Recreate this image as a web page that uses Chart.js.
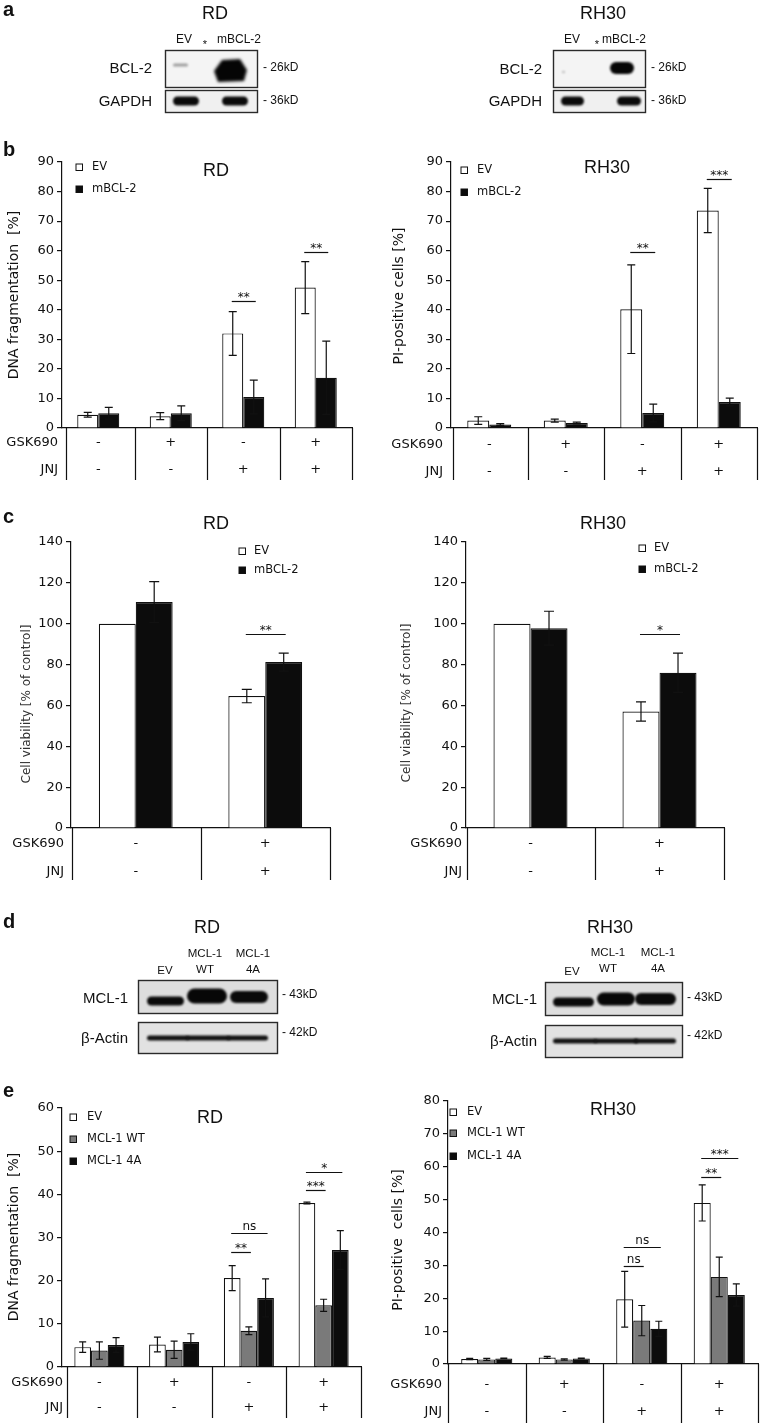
<!DOCTYPE html>
<html>
<head>
<meta charset="utf-8">
<script src="https://cdn.jsdelivr.net/npm/chart.js@4.4.1/dist/chart.umd.min.js"></script>
<style>
  html, body { margin: 0; padding: 0; background: #fff; }
  #page { position: relative; width: 761px; height: 1425px; overflow: hidden; background: #fff; }
  canvas { position: absolute; display: block; }
</style>
</head>
<body>
<div id="page">
  <canvas id="fondo" width="761" height="1425" style="left:0;top:0"></canvas>
  <canvas id="bRd"></canvas>
  <canvas id="bRh"></canvas>
  <canvas id="cRd"></canvas>
  <canvas id="cRh"></canvas>
  <canvas id="eRd"></canvas>
  <canvas id="eRh"></canvas>
</div>
<script>
// Datos
const categorias4 = ['1', '2', '3', '4'];
const categorias2 = ['1', '2'];
const filaGsk4 = ['-', '+', '-', '+'];
const filaJnj4 = ['-', '-', '+', '+'];
const filaGsk2 = ['-', '+'];
const filaJnj2 = ['-', '+'];

// b - RD (DNA fragmentation)
const bRdEV = [4.5, 4.0, 32.0, 47.5];
const bRdEVErr = [0.8, 1.2, 7.4, 8.8];
const bRdBCL = [5.0, 5.0, 10.5, 17.0];
const bRdBCLErr = [2.0, 2.5, 5.7, 12.4];
// b - RH30 (PI-positive cells)
const bRhEV = [2.5, 2.5, 40.2, 73.6];
const bRhEVErr = [1.3, 0.5, 15.0, 7.5];
const bRhBCL = [1.2, 1.7, 5.1, 8.8];
const bRhBCLErr = [0.3, 0.3, 3.0, 1.3];

// c - viabilidad
const cRdEV = [100, 64.6];
const cRdEVErr = [0, 3.3];
const cRdBCL = [110.6, 81.2];
const cRdBCLErr = [10.0, 4.4];
const cRhEV = [100, 57.0];
const cRhEVErr = [0, 4.7];
const cRhBCL = [97.8, 76.0];
const cRhBCLErr = [8.3, 9.6];

// e - MCL-1
const eRdEV = [4.6, 5.2, 20.6, 38.0];
const eRdEVErr = [1.2, 1.7, 2.9, 0.2];
const eRdWT = [3.8, 4.0, 8.4, 14.3];
const eRdWTErr = [2.0, 2.0, 0.9, 1.4];
const eRd4A = [5.1, 5.8, 16.0, 27.1];
const eRd4AErr = [1.7, 1.9, 4.4, 4.5];
const eRhEV = [1.5, 2.0, 19.7, 49.0];
const eRhEVErr = [0.2, 0.3, 8.5, 5.5];
const eRhWT = [1.4, 1.4, 13.2, 26.5];
const eRhWTErr = [0.3, 0.2, 4.6, 6.0];
const eRh4A = [1.7, 1.7, 10.7, 21.0];
const eRh4AErr = [0.1, 0.1, 2.3, 3.4];

// Significancia: categoría, barra desde, barra hasta, altura (valor), texto
const sigBRd = [[2, 0, 1, 43, '**'], [3, 0, 1, 59.5, '**']];
const sigBRh = [[2, 0, 1, 59.5, '**'], [3, 0, 1, 84.4, '***']];
const sigCRd = [[1, 0, 1, 95, '**']];
const sigCRh = [[1, 0, 1, 95, '*']];
const sigERd = [[2, 0, 1, 26.6, '**'], [2, 0, 2, 31, 'ns'], [3, 0, 1, 41, '***'], [3, 0, 2, 45.1, '*']];
const sigERh = [[2, 0, 1, 29.8, 'ns'], [2, 0, 2, 35.6, 'ns'], [3, 0, 1, 56.8, '**'], [3, 0, 2, 62.6, '***']];

const FUENTE = "'DejaVu Sans', sans-serif";
const FUENTE2 = "'Liberation Sans', Arial, sans-serif";
const TINTA = '#111111';
const BLANCO = '#ffffff', GRIS = '#7a7a7a', NEGRO = '#0c0c0c';

// Plugin para barras de error, tabla inferior, leyenda y títulos
const extras = {
  id: 'extras',
  afterDatasetsDraw(chart, args, o) {
    const ctx = chart.ctx;
    const ox = o.off.x, oy = o.off.y;
    const xs = chart.scales.x, ys = chart.scales.y;
    const area = chart.chartArea;
    ctx.save();
    ctx.strokeStyle = '#111';
    ctx.lineWidth = 1.2;

    // barras de error
    o.errores.forEach((errs, di) => {
      const meta = chart.getDatasetMeta(di);
      meta.data.forEach((bar, i) => {
        const e = errs[i];
        if (!e) return;
        const v = chart.data.datasets[di].data[i];
        const yt = ys.getPixelForValue(v + e);
        const yb = ys.getPixelForValue(Math.max(0, v - e));
        const cap = o.cap;
        ctx.beginPath();
        ctx.moveTo(bar.x, yt); ctx.lineTo(bar.x, yb);
        ctx.moveTo(bar.x - cap / 2, yt); ctx.lineTo(bar.x + cap / 2, yt);
        ctx.moveTo(bar.x - cap / 2, yb); ctx.lineTo(bar.x + cap / 2, yb);
        ctx.stroke();
      });
    });

    // significancia
    ctx.fillStyle = TINTA;
    ctx.textAlign = 'center';
    ctx.textBaseline = 'alphabetic';
    o.sig.forEach(([cat, a, b, val, txt]) => {
      const xa = chart.getDatasetMeta(a).data[cat].x - 1;
      const xb = chart.getDatasetMeta(b).data[cat].x + 2;
      const y = Math.round(ys.getPixelForValue(val)) + 0.5;
      ctx.beginPath();
      ctx.moveTo(xa, y); ctx.lineTo(xb, y);
      ctx.stroke();
      ctx.font = '12px ' + FUENTE;
      ctx.fillText(txt, (xa + xb) / 2, y - (txt === 'ns' ? 4 : 1));
    });

    // tabla GSK690 / JNJ
    const n = chart.data.labels.length;
    const w = area.width / n;
    const fondoTabla = o.tabla.bottom - oy;
    ctx.beginPath();
    for (let k = 0; k <= n; k++) {
      let x = area.left + k * w;
      if (k === 0) x += o.tabla.off;
      x = Math.round(x) + 0.5;
      ctx.moveTo(x, area.bottom);
      ctx.lineTo(x, fondoTabla);
    }
    ctx.stroke();
    ctx.font = '13px ' + FUENTE;
    ctx.textBaseline = 'middle';
    o.tabla.filas.forEach((fila, r) => {
      const y = o.tabla.ys[r] - oy;
      ctx.textAlign = 'right';
      ctx.fillText(fila.nombre, area.left + o.tabla.etq, y);
      ctx.textAlign = 'center';
      fila.valores.forEach((s, i) => {
        ctx.fillText(s, xs.getPixelForValue(i), y);
      });
    });

    // leyenda
    ctx.font = '11.5px ' + FUENTE;
    ctx.textAlign = 'left';
    o.leyenda.forEach(it => {
      const x = it.x - ox, y = it.y - oy;
      ctx.fillStyle = it.color;
      ctx.fillRect(x - 3, y - 3, 6.5, 6.5);
      ctx.lineWidth = 1;
      ctx.strokeStyle = '#111';
      ctx.strokeRect(x - 3, y - 3, 6.5, 6.5);
      ctx.fillStyle = TINTA;
      ctx.fillText(it.texto, it.tx - ox, y + 0.5);
    });

    // título
    ctx.font = '18px ' + FUENTE2;
    ctx.textAlign = 'center';
    ctx.textBaseline = 'alphabetic';
    ctx.fillStyle = TINTA;
    ctx.fillText(o.titulo.texto, o.titulo.x - ox, o.titulo.y - oy);

    // título eje Y
    ctx.save();
    ctx.translate(o.ytit.x - ox, o.ytit.y - oy);
    ctx.rotate(-Math.PI / 2);
    ctx.font = o.ytit.size + 'px ' + FUENTE;
    ctx.fillStyle = o.ytit.color || TINTA;
    ctx.textBaseline = 'middle';
    ctx.fillText(o.ytit.texto, 0, 0);
    ctx.restore();

    ctx.restore();
  }
};

function crearPanel(id, cfg) {
  const canvas = document.getElementById(id);
  canvas.width = cfg.w;
  canvas.height = cfg.h;
  canvas.style.left = cfg.left + 'px';
  canvas.style.top = cfg.top + 'px';
  canvas.style.width = cfg.w + 'px';
  canvas.style.height = cfg.h + 'px';

  return new Chart(canvas.getContext('2d'), {
    type: 'bar',
    data: {
      labels: cfg.labels,
      datasets: cfg.series.map(s => ({
        label: s.label,
        data: s.data,
        backgroundColor: s.color,
        borderColor: '#111',
        borderWidth: 1.2,
        categoryPercentage: cfg.catPct,
        barPercentage: 1.0
      }))
    },
    options: {
      responsive: false,
      animation: false,
      devicePixelRatio: 1,
      layout: {
        padding: {
          left: 0,
          top: cfg.area.t - cfg.top,
          right: cfg.left + cfg.w - cfg.area.r,
          bottom: 0
        }
      },
      plugins: {
        legend: { display: false },
        tooltip: { enabled: false },
        extras: {
          off: { x: cfg.left, y: cfg.top },
          errores: cfg.series.map(s => s.err),
          cap: cfg.cap,
          sig: cfg.sig,
          tabla: cfg.tabla,
          leyenda: cfg.leyenda,
          titulo: cfg.titulo,
          ytit: cfg.ytit
        }
      },
      scales: {
        x: {
          grid: { display: false },
          ticks: { display: false },
          border: { color: '#111', width: 1.2 },
          afterFit: s => { s.height = cfg.top + cfg.h - cfg.area.b; }
        },
        y: {
          min: 0,
          max: cfg.max,
          ticks: { stepSize: cfg.step, font: { family: FUENTE, size: 13 }, color: TINTA, padding: 3 },
          grid: { drawOnChartArea: false, drawTicks: true, tickLength: 5, color: '#111', lineWidth: 1.2 },
          border: { color: '#111', width: 1.2 },
          afterFit: s => { s.width = cfg.area.l - cfg.left; }
        }
      }
    },
    plugins: [extras]
  });
}

function tabla4(ys, bottom, off, etq) {
  return {
    ys, bottom, off, etq,
    filas: [{ nombre: 'GSK690', valores: filaGsk4 }, { nombre: 'JNJ', valores: filaJnj4 }]
  };
}
function tabla2(ys, bottom, off, etq) {
  return {
    ys, bottom, off, etq,
    filas: [{ nombre: 'GSK690', valores: filaGsk2 }, { nombre: 'JNJ', valores: filaJnj2 }]
  };
}

// Panel b
crearPanel('bRd', {
  left: 0, top: 130, w: 378, h: 360,
  area: { l: 62, t: 162, r: 352, b: 428 },
  max: 90, step: 10, catPct: 0.58, cap: 8, labels: categorias4,
  series: [
    { label: 'EV', data: bRdEV, err: bRdEVErr, color: BLANCO },
    { label: 'mBCL-2', data: bRdBCL, err: bRdBCLErr, color: NEGRO }
  ],
  sig: sigBRd,
  tabla: tabla4([443, 470], 480, 4, -4),
  leyenda: [
    { texto: 'EV', color: BLANCO, x: 79, y: 167, tx: 92 },
    { texto: 'mBCL-2', color: NEGRO, x: 79, y: 189, tx: 92 }
  ],
  titulo: { texto: 'RD', x: 216, y: 176 },
  ytit: { texto: 'DNA fragmentation  [%]', x: 14, y: 295, size: 14 }
});
crearPanel('bRh', {
  left: 380, top: 130, w: 381, h: 360,
  area: { l: 451, t: 162, r: 757, b: 428 },
  max: 90, step: 10, catPct: 0.575, cap: 8, labels: categorias4,
  series: [
    { label: 'EV', data: bRhEV, err: bRhEVErr, color: BLANCO },
    { label: 'mBCL-2', data: bRhBCL, err: bRhBCLErr, color: NEGRO }
  ],
  sig: sigBRh,
  tabla: tabla4([445, 472], 480, 2, -8),
  leyenda: [
    { texto: 'EV', color: BLANCO, x: 464, y: 170, tx: 477 },
    { texto: 'mBCL-2', color: NEGRO, x: 464, y: 192, tx: 477 }
  ],
  titulo: { texto: 'RH30', x: 607, y: 173 },
  ytit: { texto: 'PI-positive cells [%]', x: 399, y: 296, size: 14 }
});

// Panel c
crearPanel('cRd', {
  left: 0, top: 495, w: 380, h: 390,
  area: { l: 71, t: 542, r: 330, b: 828 },
  max: 140, step: 20, catPct: 0.57, cap: 10, labels: categorias2,
  series: [
    { label: 'EV', data: cRdEV, err: cRdEVErr, color: BLANCO },
    { label: 'mBCL-2', data: cRdBCL, err: cRdBCLErr, color: NEGRO }
  ],
  sig: sigCRd,
  tabla: tabla2([844, 872], 880, 1, -7),
  leyenda: [
    { texto: 'EV', color: BLANCO, x: 242, y: 551, tx: 254 },
    { texto: 'mBCL-2', color: NEGRO, x: 242, y: 570, tx: 254 }
  ],
  titulo: { texto: 'RD', x: 216, y: 529 },
  ytit: { texto: 'Cell viability [% of control]', x: 27, y: 704, size: 12, color: '#333' }
});
crearPanel('cRh', {
  left: 380, top: 495, w: 381, h: 390,
  area: { l: 466, t: 542, r: 724, b: 828 },
  max: 140, step: 20, catPct: 0.574, cap: 10, labels: categorias2,
  series: [
    { label: 'EV', data: cRhEV, err: cRhEVErr, color: BLANCO },
    { label: 'mBCL-2', data: cRhBCL, err: cRhBCLErr, color: NEGRO }
  ],
  sig: sigCRh,
  tabla: tabla2([844, 872], 880, 1, -4),
  leyenda: [
    { texto: 'EV', color: BLANCO, x: 642, y: 548, tx: 654 },
    { texto: 'mBCL-2', color: NEGRO, x: 642, y: 569, tx: 654 }
  ],
  titulo: { texto: 'RH30', x: 603, y: 529 },
  ytit: { texto: 'Cell viability [% of control]', x: 407, y: 703, size: 12, color: '#333' }
});

// Panel e
crearPanel('eRd', {
  left: 0, top: 1085, w: 380, h: 340,
  area: { l: 62, t: 1108, r: 361, b: 1367 },
  max: 60, step: 10, catPct: 0.67, cap: 7, labels: categorias4,
  series: [
    { label: 'EV', data: eRdEV, err: eRdEVErr, color: BLANCO },
    { label: 'MCL-1 WT', data: eRdWT, err: eRdWTErr, color: GRIS },
    { label: 'MCL-1 4A', data: eRd4A, err: eRd4AErr, color: NEGRO }
  ],
  sig: sigERd,
  tabla: tabla4([1383, 1408], 1418, 5, 1),
  leyenda: [
    { texto: 'EV', color: BLANCO, x: 73, y: 1117, tx: 87 },
    { texto: 'MCL-1 WT', color: GRIS, x: 73, y: 1139, tx: 87 },
    { texto: 'MCL-1 4A', color: NEGRO, x: 73, y: 1161, tx: 87 }
  ],
  titulo: { texto: 'RD', x: 210, y: 1123 },
  ytit: { texto: 'DNA fragmentation  [%]', x: 14, y: 1237, size: 14 }
});
crearPanel('eRh', {
  left: 380, top: 1085, w: 381, h: 340,
  area: { l: 448, t: 1101, r: 758, b: 1364 },
  max: 80, step: 10, catPct: 0.66, cap: 7, labels: categorias4,
  series: [
    { label: 'EV', data: eRhEV, err: eRhEVErr, color: BLANCO },
    { label: 'MCL-1 WT', data: eRhWT, err: eRhWTErr, color: GRIS },
    { label: 'MCL-1 4A', data: eRh4A, err: eRh4AErr, color: NEGRO }
  ],
  sig: sigERh,
  tabla: tabla4([1385, 1412], 1423, 0, -6),
  leyenda: [
    { texto: 'EV', color: BLANCO, x: 453, y: 1112, tx: 467 },
    { texto: 'MCL-1 WT', color: GRIS, x: 453, y: 1133, tx: 467 },
    { texto: 'MCL-1 4A', color: NEGRO, x: 453, y: 1156, tx: 467 }
  ],
  titulo: { texto: 'RH30', x: 613, y: 1115 },
  ytit: { texto: 'PI-positive  cells [%]', x: 398, y: 1240, size: 14 }
});

// Fondo: letras de panel y western blots (dibujo, no datos)
const fondo = document.getElementById('fondo').getContext('2d');
fondo.fillStyle = '#fff';
fondo.fillRect(0, 0, 761, 1425);

function texto(t, x, y, size, align, opts) {
  opts = opts || {};
  fondo.save();
  fondo.font = (opts.bold ? 'bold ' : '') + size + 'px ' + (opts.fam || FUENTE2);
  fondo.fillStyle = opts.color || TINTA;
  fondo.textAlign = align || 'left';
  fondo.textBaseline = 'alphabetic';
  fondo.fillText(t, x, y);
  fondo.restore();
}

function caja(x1, y1, x2, y2, bg) {
  fondo.fillStyle = bg;
  fondo.fillRect(x1, y1, x2 - x1, y2 - y1);
  fondo.strokeStyle = '#2a2a2a';
  fondo.lineWidth = 1.4;
  fondo.strokeRect(x1 + 0.5, y1 + 0.5, x2 - x1 - 1, y2 - y1 - 1);
}

function banda(x1, x2, yc, h, color, blur) {
  fondo.save();
  fondo.filter = 'blur(' + (blur || 1.2) + 'px)';
  fondo.fillStyle = color;
  fondo.beginPath();
  fondo.roundRect(x1, yc - h / 2, x2 - x1, h, h / 2);
  fondo.fill();
  fondo.restore();
}

function mancha(pts, color, blur) {
  fondo.save();
  fondo.filter = 'blur(' + blur + 'px)';
  fondo.fillStyle = color;
  fondo.beginPath();
  pts.forEach((p, i) => i ? fondo.lineTo(p[0], p[1]) : fondo.moveTo(p[0], p[1]));
  fondo.closePath();
  fondo.fill();
  fondo.restore();
}

// letras
texto('a', 3, 16, 20, 'left', { bold: true });
texto('b', 3, 156, 20, 'left', { bold: true });
texto('c', 3, 523, 20, 'left', { bold: true });
texto('d', 3, 928, 20, 'left', { bold: true });
texto('e', 3, 1097, 20, 'left', { bold: true });

// a - RD
texto('RD', 215, 19, 18, 'center');
texto('EV', 184, 43, 12, 'center');
texto('*', 205, 48, 11, 'center');
texto('mBCL-2', 239, 43, 12, 'center');
caja(165, 50, 258, 88, '#f4f4f4');
caja(165, 90, 258, 113, '#f0f0f0');
banda(173, 188, 65, 3, 'rgba(0,0,0,0.35)', 1);
mancha([[214, 71], [222, 60], [240, 59], [247, 70], [244, 81], [218, 82]], '#050505', 1.5);
banda(173, 199, 101, 9, '#0a0a0a', 1.3);
banda(222, 248, 101, 9, '#0a0a0a', 1.3);
texto('BCL-2', 152, 73, 15, 'right');
texto('GAPDH', 152, 106, 15, 'right');
texto('- 26kD', 263, 71, 12, 'left');
texto('- 36kD', 263, 104, 12, 'left');

// a - RH30
texto('RH30', 603, 19, 18, 'center');
texto('EV', 572, 43, 12, 'center');
texto('*', 597, 48, 11, 'center');
texto('mBCL-2', 624, 43, 12, 'center');
caja(553, 50, 646, 88, '#f4f4f4');
caja(553, 90, 646, 113, '#f0f0f0');
banda(562, 565, 72, 2, 'rgba(0,0,0,0.25)', 0.8);
banda(610, 634, 68, 12, '#050505', 1.3);
banda(561, 584, 101, 9, '#0a0a0a', 1.3);
banda(617, 641, 101, 9, '#0a0a0a', 1.3);
texto('BCL-2', 542, 74, 15, 'right');
texto('GAPDH', 542, 106, 15, 'right');
texto('- 26kD', 651, 71, 12, 'left');
texto('- 36kD', 651, 104, 12, 'left');

// d - RD
texto('RD', 207, 933, 18, 'center');
texto('EV', 165, 974, 11.5, 'center');
texto('MCL-1', 205, 957, 11.5, 'center');
texto('WT', 205, 973, 11.5, 'center');
texto('MCL-1', 253, 957, 11.5, 'center');
texto('4A', 253, 973, 11.5, 'center');
caja(138, 980, 278, 1014, '#dedede');
caja(138, 1022, 278, 1054, '#e2e2e2');
banda(147, 184, 1001, 9, '#0a0a0a', 1.2);
banda(187, 227, 996, 15, '#070707', 1.2);
banda(230, 268, 997, 12, '#0a0a0a', 1.2);
banda(147, 189, 1038, 5, '#111', 1);
banda(186, 230, 1038, 5, '#111', 1);
banda(227, 268, 1038, 5, '#111', 1);
texto('MCL-1', 128, 1003, 15, 'right');
texto('β-Actin', 128, 1043, 15, 'right');
texto('- 43kD', 282, 998, 12, 'left');
texto('- 42kD', 282, 1036, 12, 'left');

// d - RH30
texto('RH30', 610, 933, 18, 'center');
texto('EV', 572, 975, 11.5, 'center');
texto('MCL-1', 608, 956, 11.5, 'center');
texto('WT', 608, 972, 11.5, 'center');
texto('MCL-1', 658, 956, 11.5, 'center');
texto('4A', 658, 972, 11.5, 'center');
caja(545, 982, 683, 1016, '#dedede');
caja(545, 1025, 683, 1058, '#e2e2e2');
banda(553, 594, 1002, 9, '#0a0a0a', 1.2);
banda(597, 635, 999, 13, '#070707', 1.2);
banda(635, 676, 999, 12, '#0a0a0a', 1.2);
banda(553, 597, 1041, 5, '#111', 1);
banda(594, 638, 1041, 5, '#111', 1);
banda(634, 676, 1041, 5, '#111', 1);
texto('MCL-1', 537, 1004, 15, 'right');
texto('β-Actin', 537, 1046, 15, 'right');
texto('- 43kD', 687, 1001, 12, 'left');
texto('- 42kD', 687, 1039, 12, 'left');
</script>
</body>
</html>
